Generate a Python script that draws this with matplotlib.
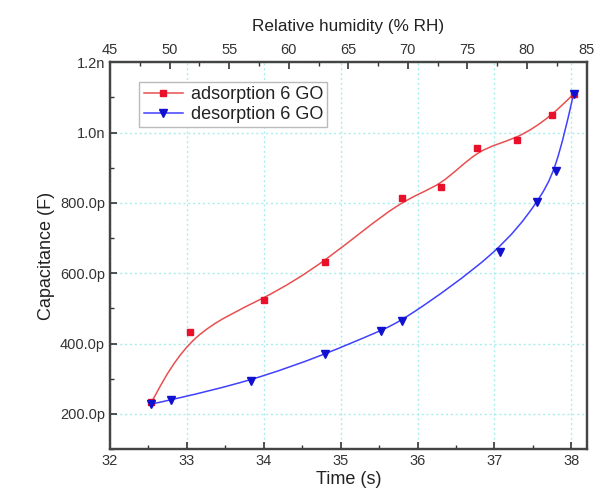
import numpy as np
import matplotlib
matplotlib.use('Agg')
import matplotlib.pyplot as plt
from matplotlib.path import Path
from matplotlib.patches import PathPatch
from matplotlib.lines import Line2D
from matplotlib.ticker import MultipleLocator

plt.rcParams['font.family'] = ['Liberation Sans', 'DejaVu Sans']

# Data (time in s, capacitance in pF)
ads_time = [32.54, 33.04, 34.00, 34.80, 35.80, 36.31, 36.78, 37.30, 37.75, 38.03]
ads_cap = [233, 434, 525, 631, 814, 845, 956, 980, 1049, 1110]
des_time = [32.54, 32.80, 33.83, 34.80, 35.52, 35.80, 37.07, 37.56, 37.80, 38.03]
des_cap = [228, 240, 293, 369, 437, 463, 660, 802, 890, 1110]

y_ticks = [200, 400, 600, 800, 1000, 1200]
y_labels = ['200.0p', '400.0p', '600.0p', '800.0p', '1.0n', '1.2n']


def bspline_path(x, y):
    # cubic B-spline through the data as control points (Origin style line)
    P = np.column_stack([x, y]).astype(float)
    P = np.vstack([P[0], P[0], P, P[-1], P[-1]])
    verts, codes = [], []
    for i in range(1, len(P) - 2):
        p0, p1, p2, p3 = P[i - 1], P[i], P[i + 1], P[i + 2]
        b0 = (p0 + 4 * p1 + p2) / 6
        b1 = (2 * p1 + p2) / 3
        b2 = (p1 + 2 * p2) / 3
        b3 = (p1 + 4 * p2 + p3) / 6
        if not verts:
            verts.append(b0)
            codes.append(Path.MOVETO)
        verts += [b1, b2, b3]
        codes += [Path.CURVE4] * 3
    return Path(verts, codes)


fig = plt.figure(figsize=(6.13, 4.94), dpi=100)
ax = fig.add_axes([0.1794, 0.0911, 0.7776, 0.7828])

ax.add_patch(PathPatch(bspline_path(ads_time, ads_cap), fill=False,
                       edgecolor='#e85050', lw=1.1, zorder=3))
ax.add_patch(PathPatch(bspline_path(des_time, des_cap), fill=False,
                       edgecolor='#4040ff', lw=1.1, zorder=3))
ax.plot(ads_time, ads_cap, ls='none', marker='s', ms=4,
        color='#e8102a', zorder=4)
ax.plot(des_time, des_cap, ls='none', marker='v', ms=5.2,
        color='#1010d0', zorder=5)

ax.set_xlim(32, 38.2)
ax.set_ylim(100, 1200)
ax.xaxis.set_major_locator(MultipleLocator(1))
ax.xaxis.set_minor_locator(MultipleLocator(0.5))
ax.set_yticks(y_ticks)
ax.set_yticklabels(y_labels)
ax.yaxis.set_minor_locator(MultipleLocator(100))
ax.tick_params(axis='both', which='both', direction='in', labelsize=10.5,
               colors='#333333', right=False, top=False)
ax.tick_params(which='major', length=5, width=1.2)
ax.tick_params(which='minor', length=3, width=1.0)
ax.grid(True, which='major', color='#a8eeee', ls=(0, (1.5, 2)), lw=1.0)

for s in ax.spines.values():
    s.set_color('#444444')
    s.set_linewidth(1.6)

ax.set_xlabel('Time (s)', fontsize=13, color='#222222', labelpad=2)
ax.set_ylabel('Capacitance (F)', fontsize=13, color='#222222', labelpad=4)

ax2 = ax.twiny()
ax2.set_xlim(45, 85)
ax2.xaxis.set_major_locator(MultipleLocator(5))
ax2.xaxis.set_minor_locator(MultipleLocator(2.5))
ax2.tick_params(axis='x', which='both', direction='in', labelsize=10.5,
                colors='#333333')
ax2.tick_params(which='major', length=5, width=1.2)
ax2.tick_params(which='minor', length=3, width=1.0)
ax2.set_xlabel('Relative humidity (% RH)', fontsize=12.3, color='#222222',
               labelpad=9)
for s in ax2.spines.values():
    s.set_color('#444444')
    s.set_linewidth(1.6)

handles = [
    Line2D([], [], color='#e85050', lw=1.1, marker='s', ms=4,
           mfc='#e8102a', mec='#e8102a'),
    Line2D([], [], color='#4040ff', lw=1.1, marker='v', ms=5.2,
           mfc='#1010d0', mec='#1010d0'),
]
leg = ax.legend(handles, ['adsorption 6 GO', 'desorption 6 GO'],
                loc='upper left', bbox_to_anchor=(0.061, 0.95),
                borderaxespad=0, fontsize=13, handlelength=2.2,
                handletextpad=0.4, labelspacing=0.15, borderpad=0.25,
                fancybox=False, framealpha=1, edgecolor='#bbbbbb')
leg.get_frame().set_linewidth(1.0)
for t in leg.get_texts():
    t.set_color('#222222')

fig.savefig('out.png', dpi=100)
